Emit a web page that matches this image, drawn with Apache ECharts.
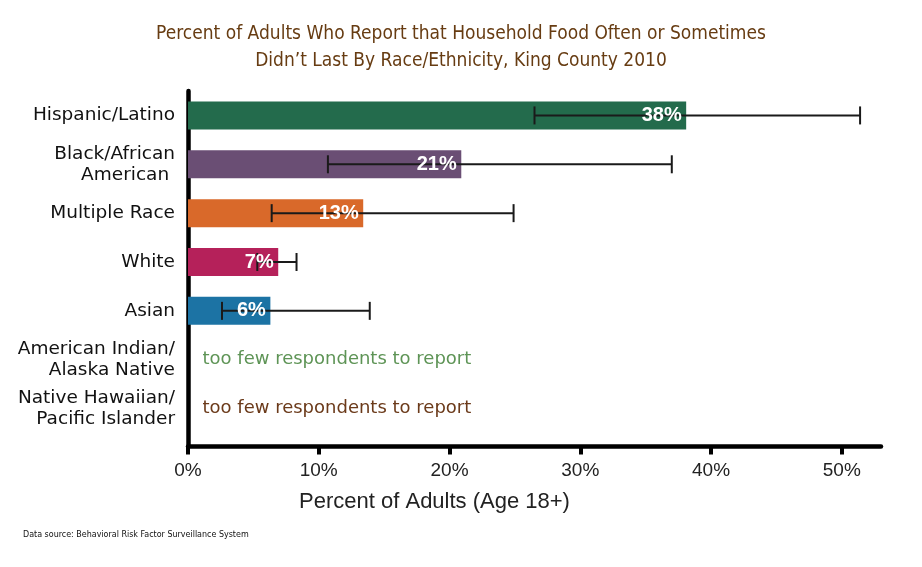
<!DOCTYPE html>
<html>
<head>
<meta charset="utf-8">
<script src="https://cdn.jsdelivr.net/npm/echarts@6/dist/echarts.min.js"></script>
<style>
	html, body { margin: 0; padding: 0; background: #fff; }
	#food_chart { width: 922px; height: 567px; }
</style>
</head>
<body>
<div id="food_chart"></div>
<script>
var categories = ['Hispanic/Latino', 'Black/African\nAmerican ', 'Multiple Race', 'White', 'Asian', 'American Indian/\nAlaska Native', 'Native Hawaiian/\nPacific Islander'];
var percent = [38.1, 20.9, 13.4, 6.9, 6.3, null, null];
var ciLow = [26.5, 10.7, 6.4, 5.3, 2.6, null, null];
var ciHigh = [51.4, 37.0, 24.9, 8.3, 13.9, null, null];
var noteText = [null, null, null, null, null, 'too few respondents to report', 'too few respondents to report'];
var xTicks = [0, 10, 20, 30, 40, 50];

var barColors = ['#236b4c', '#6a4e74', '#d9692a', '#b5215a', '#1c73a4', null, null];
var noteColors = [null, null, null, null, null, '#5e9456', '#6b3a1a'];

var narrowFont = "'DejaVu Sans Condensed', 'DejaVu Sans', sans-serif";
var food_chart = echarts.init(document.getElementById('food_chart'));

function createFoodChart()
{
	var barData = [], errData = [], valData = [], noteData = [];
	for (var i = 0; i < categories.length; i++) {
		if (percent[i] != null) {
			barData.push({value: percent[i], itemStyle: {color: barColors[i]}});
			errData.push([i, ciLow[i], ciHigh[i]]);
			valData.push([percent[i], i]);
		} else {
			barData.push(null);
		}
		if (noteText[i]) {
			noteData.push({value: [0, i], label: {formatter: noteText[i], color: noteColors[i]}});
		}
	}

	var option = {
		animation: false,
		title: [
			{
				text: 'Percent of Adults Who Report that Household Food Often or Sometimes\nDidn\u2019t Last By Race/Ethnicity, King County 2010',
				left: 'center',
				top: 21,
				padding: [0, 41, 0, 5],
				textStyle: {
					fontFamily: narrowFont,
					fontSize: 19,
					fontWeight: 'normal',
					color: '#673c12',
					lineHeight: 27
				}
			},
			{
				text: 'Data source: Behavioral Risk Factor Surveillance System',
				left: 23,
				top: 530,
				padding: 0,
				textStyle: {
					fontFamily: narrowFont,
					fontSize: 8.9,
					fontWeight: 'normal',
					color: '#111'
				}
			}
		],
		grid: [
			{left: 188, width: 693, top: 91, height: 342},
			{left: 188, width: 693, top: 91, bottom: 120.5}
		],
		xAxis: [
			{
				gridIndex: 0,
				type: 'value',
				min: 0,
				max: 53,
				show: false
			},
			{
				gridIndex: 1,
				type: 'value',
				min: 0,
				max: 53,
				axisLine: {show: true, lineStyle: {color: '#000', width: 4.5}},
				axisTick: {show: true, customValues: xTicks, length: 8, lineStyle: {color: '#000', width: 4}},
				axisLabel: {
					customValues: xTicks,
					formatter: '{value}%',
					margin: 15,
					fontFamily: 'Liberation Sans',
					fontSize: 19,
					color: '#222'
				},
				splitLine: {show: false},
				name: 'Percent of Adults (Age 18+)',
				nameLocation: 'middle',
				nameGap: 44,
				nameTextStyle: {
					fontFamily: 'Liberation Sans',
					fontSize: 22,
					color: '#222',
					padding: [0, 200, 0, 0]
				}
			}
		],
		yAxis: [
			{
				gridIndex: 0,
				type: 'category',
				inverse: true,
				data: categories,
				axisLine: {show: false},
				axisTick: {show: false},
				axisLabel: {
					margin: 13,
					fontFamily: 'DejaVu Sans',
					fontSize: 18.5,
					lineHeight: 21,
					color: '#111'
				}
			},
			{
				gridIndex: 1,
				type: 'value',
				axisLine: {show: true, lineStyle: {color: '#000', width: 4.5}},
				axisTick: {show: false},
				axisLabel: {show: false},
				splitLine: {show: false}
			}
		],
		series: [
			{
				name: 'percent',
				type: 'bar',
				xAxisIndex: 0,
				yAxisIndex: 0,
				barWidth: 28,
				data: barData,
				z: 2
			},
			{
				name: 'ci',
				type: 'custom',
				xAxisIndex: 0,
				yAxisIndex: 0,
				data: errData,
				encode: {x: [1, 2], y: 0},
				z: 3,
				renderItem: function (params, api) {
					var idx = api.value(0);
					var lo = api.coord([api.value(1), idx]);
					var hi = api.coord([api.value(2), idx]);
					var cap = 9;
					var style = {stroke: '#1a1a1a', lineWidth: 2};
					return {
						type: 'group',
						children: [
							{type: 'line', shape: {x1: lo[0], y1: lo[1], x2: hi[0], y2: hi[1]}, style: style},
							{type: 'line', shape: {x1: lo[0], y1: lo[1] - cap, x2: lo[0], y2: lo[1] + cap}, style: style},
							{type: 'line', shape: {x1: hi[0], y1: hi[1] - cap, x2: hi[0], y2: hi[1] + cap}, style: style}
						]
					};
				}
			},
			{
				name: 'labels',
				type: 'scatter',
				xAxisIndex: 0,
				yAxisIndex: 0,
				symbolSize: 1,
				itemStyle: {color: 'rgba(0,0,0,0)', opacity: 1},
				silent: true,
				z: 4,
				data: valData,
				label: {
					show: true,
					position: 'left',
					distance: 4,
					formatter: function (p) { return Math.round(p.value[0]) + '%'; },
					color: '#fff',
					opacity: 1,
					fontFamily: 'Liberation Sans',
					fontWeight: 'bold',
					fontSize: 20
				}
			},
			{
				name: 'notes',
				type: 'scatter',
				xAxisIndex: 0,
				yAxisIndex: 0,
				symbolSize: 1,
				itemStyle: {color: 'rgba(0,0,0,0)', opacity: 1},
				silent: true,
				data: noteData,
				label: {
					show: true,
					position: 'right',
					distance: 14,
					opacity: 1,
					fontFamily: 'DejaVu Sans',
					fontSize: 18
				}
			}
		]
	};
	food_chart.setOption(option);
}

createFoodChart();
</script>
</body>
</html>
